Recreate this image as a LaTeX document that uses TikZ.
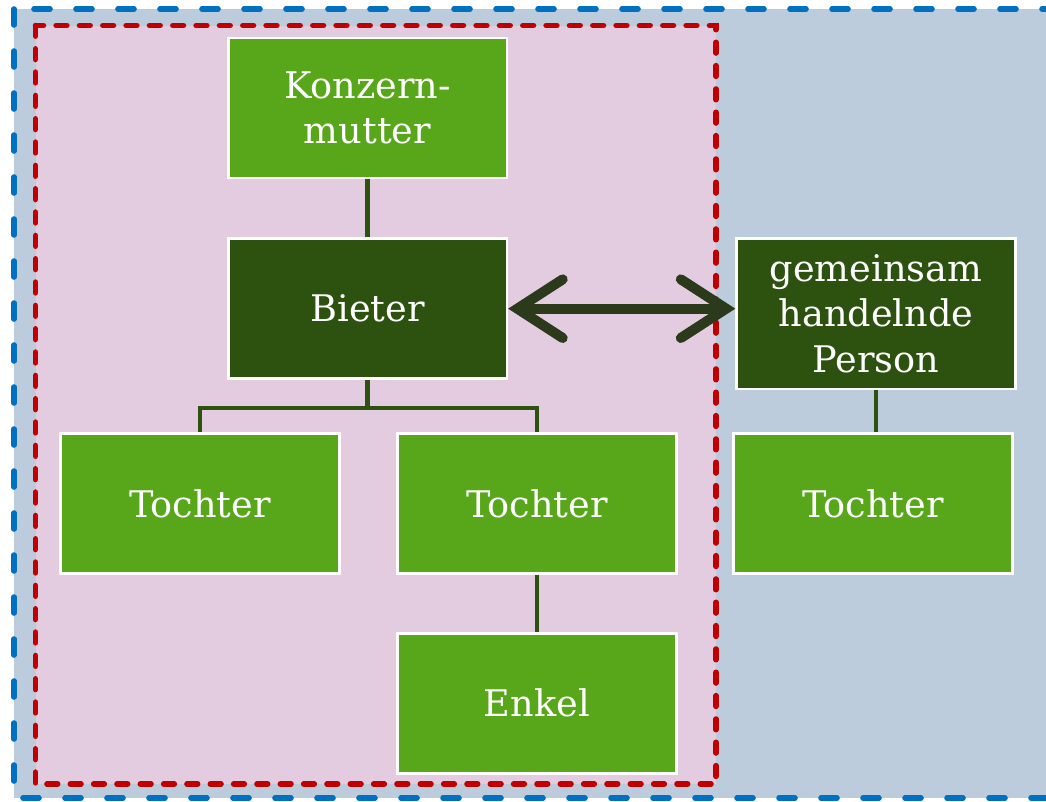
\documentclass[tikz,border=0pt]{standalone}
\usepackage{fontspec}
\setmainfont{DejaVu Serif}
\usepackage{xcolor}
\usetikzlibrary{arrows.meta,positioning}

\definecolor{bgblue}{HTML}{BCCCDC}
\definecolor{lineblue}{HTML}{0070C0}
\definecolor{bgpink}{HTML}{E3CCDF}
\definecolor{linered}{HTML}{C00000}
\definecolor{boxgreen}{HTML}{58A619}
\definecolor{boxdark}{HTML}{2D5210}
\definecolor{arrowdark}{HTML}{2A3A1A}

\begin{document}
\begin{tikzpicture}[
    x=0.75pt,y=-0.75pt,
    box/.style={draw=white,line width=2pt,fill=boxgreen,text=white,
                minimum width=209pt,minimum height=105pt,align=center,
                font=\fontsize{27.5}{34}\selectfont},
    darkbox/.style={box,fill=boxdark},
    link/.style={draw=boxdark,line width=3.2pt}
  ]
  \useasboundingbox (0,0) rectangle (1046,801);
  \clip (0,0) rectangle (1046,801);
  % Frames
  \draw[lineblue,fill=bgblue,line width=4.2pt,line cap=round,
        dash pattern=on 12pt off 19.5pt] (14,9) rectangle (1070,798);
  \draw[linered,fill=bgpink,line width=4.2pt,line cap=round,
        dash pattern=on 8pt off 9.5pt] (35.5,25.5) rectangle (716,784);
  % Group
  \node[box]     (mutter) at (367.5,108) {Konzern-\\mutter};
  \node[darkbox,below=43.5pt of mutter] (bieter) {Bieter};
  \node[box]     (t1) at (200,503.5) {Tochter};
  \node[box]     (t2) at (537,503.5) {Tochter};
  \node[box,below=42.75pt of t2] (enkel) {Enkel};
  % Partner
  \node[darkbox,minimum height=113pt] (gem) at (876,313.5) {gemeinsam\\handelnde\\Person};
  \node[box]     (t3) at (873,503.5) {Tochter};
  \draw[link] (mutter.south) -- (bieter.north);
  \draw[link] (bieter.south) -- ++(0,28) -| (t1.north);
  \draw[link] (bieter.south) -- ++(0,28) -| (t2.north);
  \draw[link] (t2.south) -- (enkel.north);
  \draw[link] (gem.south) -- (gem.south |- t3.north);
  \draw[arrowdark,line width=7.5pt,
        {Straight Barb[length=34pt 0,width=44pt 0,line cap=round]}-{Straight Barb[length=34pt 0,width=44pt 0,line cap=round]}]
    (bieter.east) -- (bieter.east -| gem.west);
\end{tikzpicture}
\end{document}
